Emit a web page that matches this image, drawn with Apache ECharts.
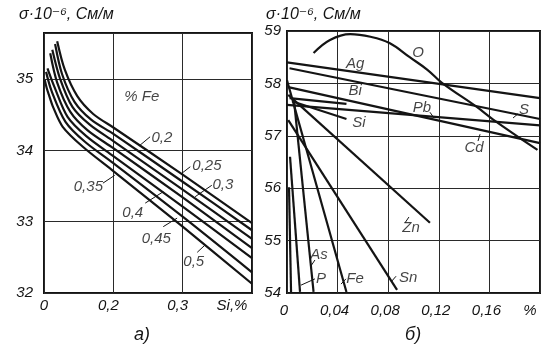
<!DOCTYPE html>
<html>
<head>
<meta charset="utf-8">
<script src="https://cdn.jsdelivr.net/npm/echarts@6/dist/echarts.min.js"></script>
<style>
html, body { margin: 0; padding: 0; background: #fff; }
#chart { width: 550px; height: 352px; }
</style>
</head>
<body>
<div id="chart"></div>
<script>
// а) проводимость от Si при разном Fe (ось x в делениях сетки)
var siTicks = ['0', '0,2', '0,3', 'Si,%'];
var fe020 = [[0.19, 35.53], [0.30, 35.13], [0.48, 34.76], [0.71, 34.51], [1, 34.32], [2, 33.66], [3, 32.98]];
var fe025 = [[0.16, 35.49], [0.26, 35.07], [0.44, 34.68], [0.68, 34.43], [1, 34.23], [2, 33.56], [3, 32.88]];
var fe030 = [[0.12, 35.41], [0.23, 35.01], [0.41, 34.61], [0.66, 34.36], [1, 34.13], [2, 33.45], [3, 32.76]];
var fe035 = [[0.09, 35.36], [0.19, 34.95], [0.38, 34.54], [0.63, 34.28], [1, 34.03], [2, 33.34], [3, 32.63]];
var fe040 = [[0.05, 35.15], [0.15, 34.89], [0.34, 34.47], [0.61, 34.20], [1, 33.92], [2, 33.21], [3, 32.49]];
var fe045 = [[0.03, 35.10], [0.11, 34.83], [0.31, 34.40], [0.59, 34.12], [1, 33.82], [2, 33.07], [3, 32.29]];
var fe050 = [[0.01, 34.99], [0.04, 34.87], [0.07, 34.78], [0.13, 34.61], [0.27, 34.33], [0.56, 34.05], [1, 33.71], [2, 32.93], [3, 32.13]];
// подписи кривых а): [x, y, текст]
var leftNotes = [[1.41, 34.75, '% Fe'], [1.70, 34.17, '0,2'], [2.35, 33.78, '0,25'], [2.58, 33.51, '0,3'],
  [0.64, 33.49, '0,35'], [1.28, 33.12, '0,4'], [1.62, 32.76, '0,45'], [2.16, 32.43, '0,5']];
var leftLeaders = [
  [[1.37, 34.06], [1.53, 34.19]], [[1.99, 33.68], [2.11, 33.77]], [[2.18, 33.35], [2.42, 33.51]],
  [[0.85, 33.54], [1.02, 33.65]], [[1.46, 33.26], [1.72, 33.42]], [[1.72, 32.93], [1.92, 33.05]],
  [[2.21, 32.57], [2.32, 32.67]]
];

// б) проводимость меди от примесей
var pctTicks = ['0', '0,04', '0,08', '0,12', '0,16', '%'];
var cuO = [[0.021, 58.58], [0.034, 58.83], [0.05, 58.94], [0.066, 58.89], [0.081, 58.77], [0.097, 58.50],
  [0.111, 58.26], [0.1225, 58.01], [0.150, 57.55], [0.163, 57.31], [0.198, 56.73]];
var cuAg = [[0, 58.40], [0.2, 57.72]];
var cuS = [[0.002, 58.29], [0.2, 57.32]];
var cuPb = [[0, 57.59], [0.2, 57.20]];
var cuCd = [[0.001, 57.93], [0.2, 56.86]];
var cuBi = [[0.002, 57.72], [0.047, 57.61]];
var cuSi = [[0.004, 57.66], [0.047, 57.32]];
var cuZn = [[0.001, 57.78], [0.113, 55.34]];
var cuSn = [[0.001, 57.30], [0.087, 54.06]];
var cuFe = [[0, 58.06], [0.047, 54.02]];
var cuAs = [[0.0055, 57.68], [0.021, 54.02]];
var cuP = [[0.0024, 56.60], [0.0103, 54.02]];
var cuX = [[0.0016, 56.02], [0.0032, 54.02]];
var rightNotes = [[0.1036, 58.58, 'O'], [0.0538, 58.37, 'Ag'], [0.0538, 57.85, 'Bi'], [0.1067, 57.53, 'Pb'],
  [0.1874, 57.49, 'S'], [0.0569, 57.24, 'Si'], [0.1478, 56.77, 'Cd'], [0.098, 55.24, 'Zn'],
  [0.0957, 54.29, 'Sn'], [0.0538, 54.27, 'Fe'], [0.0253, 54.73, 'As'], [0.0269, 54.27, 'P']];
var rightLeaders = [
  [[0.113, 57.45], [0.1162, 57.34]], [[0.1826, 57.42], [0.1787, 57.34]], [[0.151, 56.90], [0.1526, 57.03]],
  [[0.0933, 55.34], [0.0964, 55.45]], [[0.0822, 54.21], [0.0862, 54.32]], [[0.0427, 54.17], [0.0466, 54.27]],
  [[0.019, 54.52], [0.0221, 54.63]], [[0.0111, 54.15], [0.0221, 54.27]]
];

var ink = '#141414';
var font = '"Liberation Sans", "DejaVu Sans", sans-serif';

function curve(data, g, smooth, w) {
  return {
    type: 'line', xAxisIndex: g, yAxisIndex: g, data: data,
    symbol: 'none', smooth: smooth, silent: true,
    lineStyle: { color: ink, width: w || 2.2 }
  };
}

function notes(list, g) {
  return {
    type: 'scatter', xAxisIndex: g, yAxisIndex: g, symbolSize: 1, silent: true,
    itemStyle: { color: 'rgba(0,0,0,0)' },
    data: list.map(function (n) { return { value: [n[0], n[1]], name: n[2] }; }),
    label: {
      show: true, position: 'inside', formatter: '{b}',
      color: ink, fontSize: 15, fontStyle: 'italic', fontFamily: font
    }
  };
}

var series = [];
[fe020, fe025, fe030, fe035, fe040, fe045, fe050].forEach(function (d) { series.push(curve(d, 0, 0.3)); });
leftLeaders.forEach(function (d) { series.push(curve(d, 0, false, 1)); });
series.push(notes(leftNotes, 0));
series.push(curve(cuO, 1, 0.4));
[cuAg, cuS, cuPb, cuCd, cuBi, cuSi, cuZn, cuSn, cuFe, cuAs, cuP, cuX].forEach(function (d) { series.push(curve(d, 1, false)); });
rightLeaders.forEach(function (d) { series.push(curve(d, 1, false, 1)); });
series.push(notes(rightNotes, 1));

var labelBase = { color: ink, fontSize: 15, fontStyle: 'italic', fontFamily: font };
var gridLine = { show: true, lineStyle: { color: '#2a2a2a', width: 1 } };

var chart = echarts.init(document.getElementById('chart'));
chart.setOption({
  animation: false,
  backgroundColor: '#fff',
  grid: [
    { left: 44, top: 33, width: 208, height: 260, show: true, borderColor: ink, borderWidth: 2, backgroundColor: 'rgba(0,0,0,0)' },
    { left: 287, top: 31, width: 253, height: 262, show: true, borderColor: ink, borderWidth: 2, backgroundColor: 'rgba(0,0,0,0)' }
  ],
  xAxis: [
    {
      type: 'value', gridIndex: 0, min: 0, max: 3, interval: 1,
      axisLine: { show: false }, axisTick: { show: false }, splitLine: gridLine,
      axisLabel: Object.assign({}, labelBase, {
        margin: 5,
        formatter: function (v) {
          var i = Math.round(v);
          if (i === 0) return '{a|' + siTicks[i] + '}';
          if (i === 3) return '{c|' + siTicks[i] + '}';
          return '{b|' + siTicks[i] + '}';
        },
        rich: {
          a: labelBase,
          b: Object.assign({}, labelBase, { padding: [0, 10, 0, 0] }),
          c: Object.assign({}, labelBase, { padding: [0, 40, 0, 0] })
        }
      })
    },
    {
      type: 'value', gridIndex: 1, min: 0, max: 0.2, interval: 0.04,
      axisLine: { show: false }, axisTick: { show: false }, splitLine: gridLine,
      axisLabel: Object.assign({}, labelBase, {
        margin: 10,
        formatter: function (v) {
          var i = Math.round(v / 0.04);
          return (i === 5 ? '{c|' : '{b|') + pctTicks[i] + '}';
        },
        rich: {
          b: Object.assign({}, labelBase, { padding: [0, 6, 0, 0] }),
          c: Object.assign({}, labelBase, { padding: [0, 20, 0, 0] })
        }
      })
    }
  ],
  yAxis: [
    {
      type: 'value', gridIndex: 0, min: 32, max: 35.645, interval: 1,
      axisLine: { show: false }, axisTick: { show: false }, splitLine: gridLine,
      axisLabel: Object.assign({}, labelBase, {
        margin: 11, showMaxLabel: false,
        formatter: function (v) { return Math.abs(v - Math.round(v)) < 1e-6 ? String(Math.round(v)) : ''; }
      })
    },
    {
      type: 'value', gridIndex: 1, min: 54, max: 59, interval: 1,
      axisLine: { show: false }, axisTick: { show: false }, splitLine: gridLine,
      axisLabel: Object.assign({}, labelBase, { margin: 6 })
    }
  ],
  graphic: [
    { type: 'text', left: 19, top: 7, style: { text: 'σ·10⁻⁶, См/м', fill: ink, font: 'italic 16px ' + font } },
    { type: 'text', left: 266, top: 7, style: { text: 'σ·10⁻⁶, См/м', fill: ink, font: 'italic 16px ' + font } },
    { type: 'text', left: 134, top: 326, style: { text: 'а)', fill: ink, font: 'italic 18px ' + font } },
    { type: 'text', left: 405, top: 326, style: { text: 'б)', fill: ink, font: 'italic 18px ' + font } }
  ],
  series: series
});
</script>
</body>
</html>
